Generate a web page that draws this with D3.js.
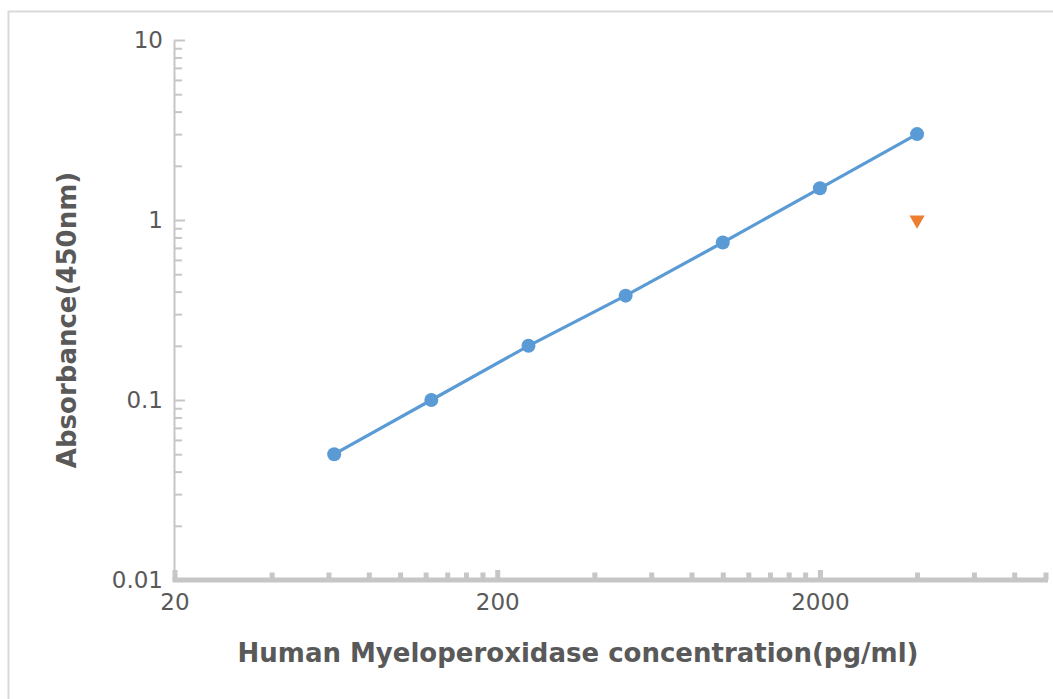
<!DOCTYPE html>
<html>
<head>
<meta charset="utf-8">
<script src="https://cdn.jsdelivr.net/npm/d3@7"></script>
<style>
  html, body { margin: 0; padding: 0; background: #fff; }
  svg { display: block; }
  text { font-family: "DejaVu Sans", sans-serif; fill: #595959; }
</style>
</head>
<body>
<svg id="chart" width="1053" height="699"></svg>
<script>
// ---- data ----
const concentrations = [62.5, 125, 250, 500, 1000, 2000, 4000];
const absorbance = [0.05, 0.1, 0.2, 0.38, 0.75, 1.5, 3.0];
const extraX = [4000];
const extraY = [1.0];
const xMajorTicks = [20, 200, 2000];
const xMajorLabels = ["20", "200", "2000"];
const xMinorTicks = [40, 60, 80, 100, 120, 140, 160, 180,
                     400, 600, 800, 1000, 1200, 1400, 1600, 1800,
                     4000, 6000, 8000, 10000];
const yMajorTicks = [0.01, 0.1, 1, 10];
const yMajorLabels = ["0.01", "0.1", "1", "10"];
const yMinorTicks = [0.02,0.03,0.04,0.05,0.06,0.07,0.08,0.09,
                     0.2,0.3,0.4,0.5,0.6,0.7,0.8,0.9,
                     2,3,4,5,6,7,8,9];
const xTitle = "Human Myeloperoxidase concentration(pg/ml)";
const yTitle = "Absorbance(450nm)";

// ---- layout ----
const svg = d3.select("#chart");
const x = d3.scaleLog().domain([20, 10000]).range([174.5, 1045.5]);
const y = d3.scaleLog().domain([0.01, 10]).range([580, 40]);
const axisColor = "#c6c6c6";

// frame
svg.append("path")
  .attr("d", "M8.5,700 L8.5,11.5 L1053,11.5")
  .attr("fill", "none").attr("stroke", "#d9d9d9").attr("stroke-width", 2);

// y axis
const yAxis = d3.axisLeft(y)
  .tickValues(yMajorTicks.concat(yMinorTicks))
  .tickSize(0)
  .tickPadding(11)
  .tickFormat(d => { const i = yMajorTicks.indexOf(d); return i >= 0 ? yMajorLabels[i] : ""; });
const gy = svg.append("g").attr("transform", "translate(174,0)").call(yAxis);
gy.select(".domain").attr("stroke", axisColor).attr("stroke-width", 2);
gy.selectAll(".tick line")
  .attr("x2", d => yMajorTicks.includes(d) ? 11 : 8)
  .attr("stroke", axisColor).attr("stroke-width", 2);
gy.selectAll(".tick text").style("font-size", "23px").style("fill", "#595959")
  .attr("font-family", null);

// x axis
const xAxis = d3.axisBottom(x)
  .tickValues(xMajorTicks.concat(xMinorTicks))
  .tickSize(0)
  .tickPadding(14)
  .tickFormat(d => { const i = xMajorTicks.indexOf(d); return i >= 0 ? xMajorLabels[i] : ""; });
const gx = svg.append("g").attr("transform", "translate(0,580)").call(xAxis);
gx.select(".domain").attr("d", `M${x(20)-2},0H1048`).attr("stroke", axisColor).attr("stroke-width", 5);
gx.selectAll(".tick line")
  .attr("y2", d => xMajorTicks.includes(d) ? -10 : -7.5)
  .attr("stroke", axisColor).attr("stroke-width", 5);
gx.selectAll(".tick text").style("font-size", "23px").style("fill", "#595959")
  .attr("font-family", null);

// line
const line = d3.line().x((d, i) => x(concentrations[i])).y(d => y(d));
svg.append("path").datum(absorbance)
  .attr("d", line)
  .attr("fill", "none").attr("stroke", "#5b9bd5").attr("stroke-width", 3.2);
svg.selectAll("circle.pt").data(absorbance).enter().append("circle")
  .attr("class", "pt")
  .attr("cx", (d, i) => x(concentrations[i]))
  .attr("cy", d => y(d))
  .attr("r", 7).attr("fill", "#5b9bd5");

// extra series (triangle down)
const tri = d3.symbol().type(d3.symbolTriangle).size(100);
svg.selectAll("path.tri").data(extraY).enter().append("path")
  .attr("class", "tri")
  .attr("d", tri)
  .attr("transform", (d, i) => `translate(${x(extraX[i])},${y(d)}) rotate(180)`)
  .attr("fill", "#ed7d31");

// titles
svg.append("text")
  .attr("x", 578).attr("y", 662)
  .attr("text-anchor", "middle")
  .style("font-weight", "bold").style("font-size", "26px")
  .text(xTitle);
svg.append("text")
  .attr("transform", "translate(76,320) rotate(-90)")
  .attr("text-anchor", "middle")
  .style("font-weight", "bold").style("font-size", "26px")
  .text(yTitle);
</script>
</body>
</html>
